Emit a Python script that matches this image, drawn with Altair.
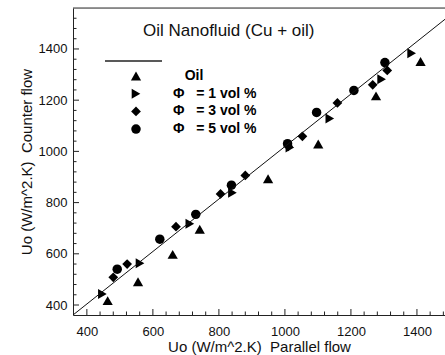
import altair as alt
import pandas as pd

FONT = "Liberation Sans"

# Series values
oil_x = [463, 555, 660, 742, 949, 1101, 1276, 1411]
oil_y = [417, 491, 598, 696, 893, 1029, 1217, 1351]
phi1_x = [447, 561, 712, 841, 1015, 1136, 1293, 1384]
phi1_y = [443, 563, 717, 838, 1015, 1128, 1282, 1383]
phi3_x = [480, 522, 670, 805, 880, 1010, 1053, 1159, 1266, 1310]
phi3_y = [508, 560, 706, 834, 906, 1020, 1059, 1189, 1260, 1316]
phi5_x = [492, 621, 730, 838, 1008, 1096, 1209, 1303]
phi5_y = [540, 657, 754, 868, 1030, 1152, 1238, 1347]

# Reference line (two end points)
line_x = [358, 1485]
line_y = [361, 1516]

series_labels = [
    "\u200b\u00a0\u00a0\u00a0Oil",
    "\u03a6\u00a0\u00a0\u00a0= 1 vol %",
    "\u03a6\u00a0\u00a0\u00a0= 3 vol %",
    "\u03a6\u00a0\u00a0\u00a0= 5 vol %",
]
series_shapes = ["triangle-up", "triangle-right", "diamond", "circle"]
series_sizes = [105, 90, 105, 150]

x_major = [400, 600, 800, 1000, 1200, 1400]
y_major = [400, 600, 800, 1000, 1200, 1400]
x_minor = [v for v in range(400, 1490, 40) if v % 200]
y_minor = [v for v in range(400, 1560, 40) if v % 200]

title_text = "Oil Nanofluid (Cu + oil)"
x_title = "Uo (W/m^2.K)\u00a0\u00a0Parallel flow"
y_title = "Uo (W/m^2.K)\u00a0\u00a0Counter flow"

rows = []
for lab, xs, ys in zip(series_labels, [oil_x, phi1_x, phi3_x, phi5_x],
                       [oil_y, phi1_y, phi3_y, phi5_y]):
    for a, b in zip(xs, ys):
        rows.append({"x": a, "y": b, "series": lab})
df = pd.DataFrame(rows)
line_df = pd.DataFrame({"x": line_x, "y": line_y})

W, H = 372, 307
xscale = alt.Scale(domain=[358, 1485], nice=False, zero=False)
yscale = alt.Scale(domain=[361, 1560], nice=False, zero=False)

legend = alt.Legend(
    orient="none", legendX=56, legendY=61, title=None,
    labelFont=FONT, labelFontSize=14, labelFontWeight="bold", labelColor="black",
    labelOffset=30, rowPadding=3.7, symbolFillColor="black", symbolStrokeColor="black",
    symbolStrokeWidth=0, symbolOpacity=1,
)

points = alt.Chart(df).mark_point(filled=True, opacity=1, color="black", strokeWidth=0).encode(
    x=alt.X("x:Q", scale=xscale, title=x_title,
            axis=alt.Axis(values=x_major, format="d", ticks=False, grid=False, domainColor="#222",
                          labelFont=FONT, labelFontSize=13, labelColor="#111", labelPadding=10,
                          titleFont=FONT, titleFontSize=15, titleFontWeight="normal",
                          titleColor="#111", titlePadding=1)),
    y=alt.Y("y:Q", scale=yscale, title=y_title,
            axis=alt.Axis(values=y_major, format="d", ticks=False, grid=False, domainColor="#222",
                          labelFont=FONT, labelFontSize=13, labelColor="#111", labelPadding=6,
                          titleFont=FONT, titleFontSize=15, titleFontWeight="normal",
                          titleColor="#111", titlePadding=4)),
    shape=alt.Shape("series:N", scale=alt.Scale(domain=series_labels, range=series_shapes),
                    legend=legend),
    size=alt.Size("series:N", scale=alt.Scale(domain=series_labels, range=series_sizes),
                  legend=legend),
)

line = alt.Chart(line_df).mark_line(color="#111", strokeWidth=1, clip=True).encode(
    x=alt.X("x:Q", scale=xscale),
    y=alt.Y("y:Q", scale=yscale),
)

def xticks(vals, length):
    return alt.Chart(pd.DataFrame({"v": vals})).mark_rule(color="#222", strokeWidth=1).encode(
        x=alt.X("v:Q", scale=xscale), y=alt.value(H), y2=alt.value(H - length))

def yticks(vals, length):
    return alt.Chart(pd.DataFrame({"v": vals})).mark_rule(color="#222", strokeWidth=1).encode(
        y=alt.Y("v:Q", scale=yscale), x=alt.value(0), x2=alt.value(length))

top_border = alt.Chart(pd.DataFrame({"a": [0]})).mark_rule(color="#333", strokeWidth=1.2).encode(
    x=alt.value(0), x2=alt.value(W), y=alt.value(0))

legend_line = alt.Chart(pd.DataFrame({"a": [0]})).mark_rule(color="#222", strokeWidth=1.3).encode(
    x=alt.value(32), x2=alt.value(89), y=alt.value(53))

title = alt.Chart(pd.DataFrame({"t": [title_text]})).mark_text(
    align="left", baseline="middle", font=FONT, fontSize=17, color="#111").encode(
    text="t:N", x=alt.value(70), y=alt.value(23))

chart = alt.layer(
    points, line,
    xticks(x_major, 6), xticks(x_minor, 3.5), yticks(y_major, 6), yticks(y_minor, 3.5),
    top_border, legend_line, title,
).properties(
    width=W, height=H,
    padding={"left": 73, "top": 8, "right": 0, "bottom": 40},
    autosize=alt.AutoSizeParams(type="none"),
).configure_view(stroke=None).configure(background="white")

chart.save("out.html", embed_options={"renderer": "svg", "actions": False})
